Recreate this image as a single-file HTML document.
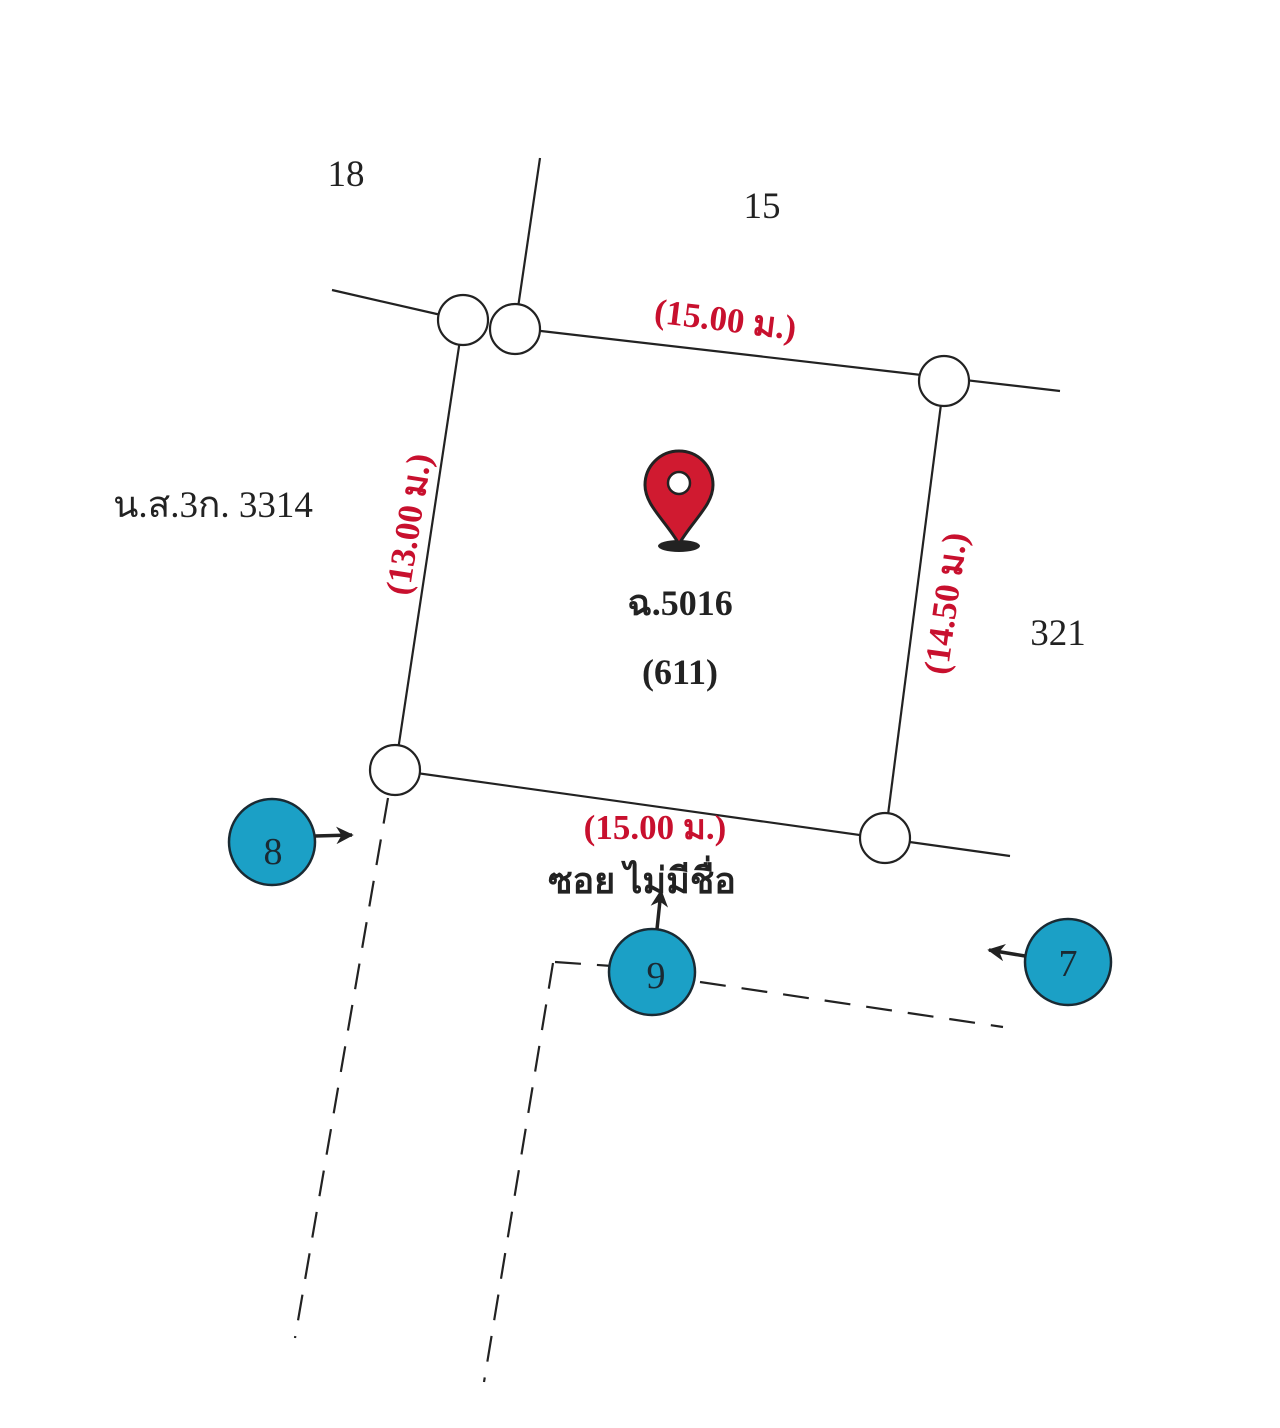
<!DOCTYPE html>
<html><head><meta charset="utf-8"><style>
html,body{margin:0;padding:0;background:#fff;width:1280px;height:1428px;overflow:hidden}
svg{display:block}
text{font-family:"Liberation Serif","Noto Serif CJK SC",serif}
</style></head><body>
<svg width="1280" height="1428" viewBox="0 0 1280 1428" xmlns="http://www.w3.org/2000/svg">
<defs><marker id="ah" viewBox="0 0 10 10" refX="9" refY="5" markerWidth="5" markerHeight="5" orient="auto"><path d="M0,0 L10,5 L0,10 L3,5 Z" fill="#222"/></marker></defs>
<g stroke="#222" stroke-width="2.2" fill="none">
<line x1="332" y1="290" x2="463" y2="320"/>
<line x1="540" y1="158" x2="515" y2="328"/>
<line x1="515" y1="328" x2="1060" y2="391"/>
<line x1="463" y1="320" x2="395" y2="770"/>
<line x1="944" y1="381" x2="885" y2="838"/>
<line x1="395" y1="770" x2="1010" y2="856"/>
<g stroke-dasharray="26,16">
<line x1="388" y1="798" x2="295" y2="1338"/>
<line x1="553" y1="963" x2="484" y2="1382"/>
<line x1="555" y1="962" x2="612" y2="966"/>
<line x1="700" y1="982" x2="1003" y2="1027"/>
</g>
</g>
<g fill="#fff" stroke="#222" stroke-width="2.2">
<circle cx="463" cy="320" r="25"/><circle cx="515" cy="329" r="25"/>
<circle cx="944" cy="381" r="25"/><circle cx="395" cy="770" r="25"/><circle cx="885" cy="838" r="25"/>
</g>
<g fill="#1ba0c6" stroke="#1a2a33" stroke-width="2.5">
<circle cx="272" cy="842" r="43"/><circle cx="652" cy="972" r="43"/><circle cx="1068" cy="962" r="43"/>
</g>
<g stroke="#222" stroke-width="3.5" marker-end="url(#ah)">
<line x1="315" y1="836" x2="352" y2="835"/>
<line x1="657" y1="929" x2="661" y2="891"/>
<line x1="1025" y1="956" x2="989" y2="950"/>
</g>
<g font-size="38" fill="#1a2a33" text-anchor="middle">
<text x="273" y="864">8</text><text x="656" y="988">9</text><text x="1068" y="976">7</text>
</g>
<g font-size="37" fill="#222" text-anchor="middle">
<text x="346" y="186">18</text><text x="762" y="218">15</text>
<text x="213" y="517">น.ส.3ก. 3314</text><text x="1058" y="645">321</text>
</g>
<g font-size="36" font-weight="bold" fill="#222" text-anchor="middle">
<text x="680" y="615">ฉ.5016</text><text x="680" y="684">(611)</text>
<text x="642" y="893">ซอย ไม่มีชื่อ</text>
</g>
<g font-size="35" font-weight="bold" fill="#c8102e" text-anchor="middle">
<text transform="translate(724,331) rotate(7)">(15.00 ม.)</text>
<text x="655" y="839">(15.00 ม.)</text>
<text transform="translate(420,526) rotate(-81)">(13.00 ม.)</text>
<text transform="translate(957,605) rotate(-82)">(14.50 ม.)</text>
</g>
<ellipse cx="679" cy="546" rx="21" ry="6" fill="#222"/>
<path d="M679,544 C665,520 645,505 645,485 A34,34 0 0 1 713,485 C713,505 693,520 679,544 Z" fill="#d01a30" stroke="#222" stroke-width="3"/>
<circle cx="679" cy="483" r="11" fill="#fff" stroke="#222" stroke-width="2.5"/>
</svg>
</body></html>
